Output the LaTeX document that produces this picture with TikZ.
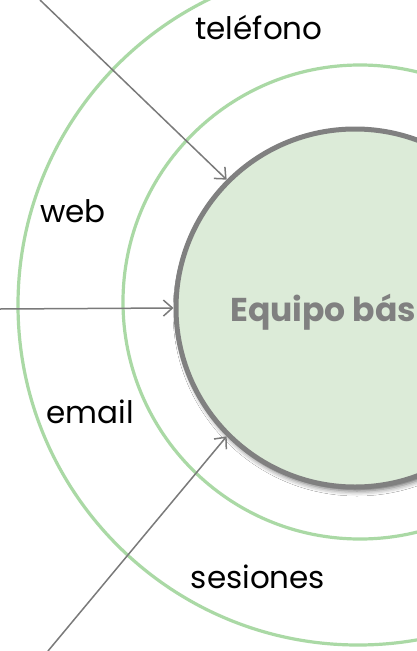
\documentclass[tikz,border=0pt]{standalone}
\usepackage{fontspec}
\setmainfont{Poppins}
\usetikzlibrary{arrows.meta,shadows.blur}
\definecolor{ringgreen}{HTML}{AAD9A5}
\definecolor{corefill}{HTML}{DCEBD8}
\definecolor{coregray}{HTML}{808080}
\definecolor{arrowgray}{HTML}{7A7A7A}
\tikzset{
  ring/.style={draw=ringgreen, line width=3.2pt},
  label/.style={font=\fontsize{31}{36}\selectfont, text=black, inner sep=0pt},
  flow/.style={draw=arrowgray, line width=1.5pt, -{Straight Barb[length=9pt,width=16pt,line width=1.5pt]}},
}
\begin{document}
\begin{tikzpicture}[x=1pt,y=-1pt]
\useasboundingbox (0,0) rectangle (417,651);
\clip (0,0) rectangle (417,651);
\fill[white] (0,0) rectangle (417,651);
% rings
\draw[ring] (358,305) circle[radius=340];
\draw[ring] (360,302) circle[radius=237];
% core
\node[circle, draw=coregray, fill=corefill, line width=5pt, minimum size=358pt, inner sep=0pt,
      blur shadow={shadow xshift=2pt, shadow yshift=-4pt, shadow blur radius=5pt, shadow opacity=60}]
  (core) at (355,308) {};
\node[font=\bfseries\fontsize{33}{38}\selectfont, text=coregray, anchor=west, inner sep=0pt] (title) at (230,312) {Equipo básico};
% labels
\node[label] (tel) at (259,28) {teléfono};
\node[label] (web) at (73,211) {web};
\node[label] (mail) at (90,412) {email};
\node[label] (ses) at (258,577) {sesiones};
% arrows
\coordinate (s1) at (40,0);
\coordinate (s2) at (0,309);
\coordinate (s3) at (48,651);
\draw[flow] (s1) -- (core.135);
\draw[flow] (s2) -- (core.180);
\draw[flow] (s3) -- (core.225);
\end{tikzpicture}
\end{document}
